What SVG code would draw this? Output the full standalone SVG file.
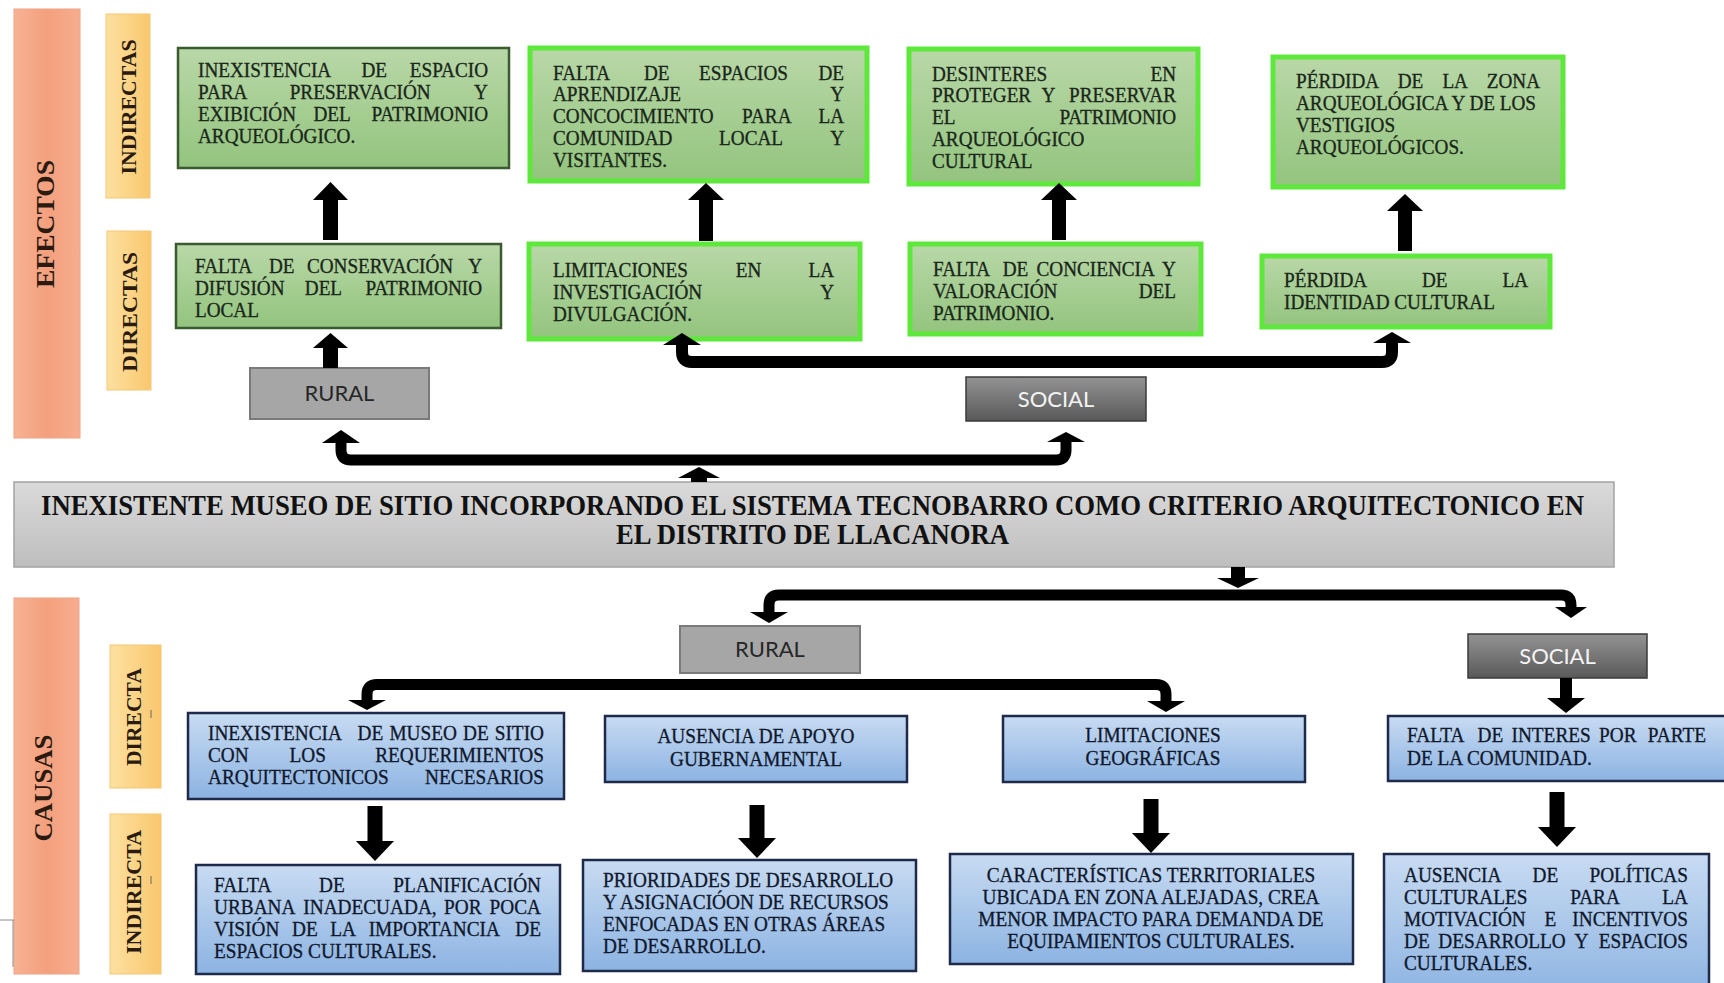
<svg xmlns="http://www.w3.org/2000/svg" width="1724" height="983" viewBox="0 0 1724 983">
<defs>
<linearGradient id="gGreen" x1="0" y1="0" x2="0" y2="1"><stop offset="0" stop-color="#b9d8a8"/><stop offset="1" stop-color="#93c47e"/></linearGradient>
<linearGradient id="gBlue" x1="0" y1="0" x2="0" y2="1"><stop offset="0" stop-color="#c8dbf2"/><stop offset="1" stop-color="#8cb3e2"/></linearGradient>
<linearGradient id="gMain" x1="0" y1="0" x2="0" y2="1"><stop offset="0" stop-color="#dadada"/><stop offset="1" stop-color="#bebebe"/></linearGradient>
<linearGradient id="gSocial" x1="0" y1="0" x2="0" y2="1"><stop offset="0" stop-color="#939393"/><stop offset="1" stop-color="#595959"/></linearGradient>
<linearGradient id="gSalmon" x1="0" y1="0" x2="1" y2="0"><stop offset="0" stop-color="#f7b294"/><stop offset="0.5" stop-color="#f4a07e"/><stop offset="1" stop-color="#f7ad8e"/></linearGradient>
<linearGradient id="gYellow" x1="0" y1="0" x2="1" y2="0"><stop offset="0" stop-color="#fde0a0"/><stop offset="0.5" stop-color="#fbd487"/><stop offset="1" stop-color="#f9c76d"/></linearGradient>
</defs>
<style>
.g1{fill:url(#gGreen);stroke:#3b5a30;stroke-width:2.5}
.g2{fill:url(#gGreen);stroke:#5ee83c;stroke-width:5}
.bl{fill:url(#gBlue);stroke:#1f2a4a;stroke-width:2.5}
.main{fill:url(#gMain);stroke:#a3a3a3;stroke-width:1.5}
.rural{fill:#a6a6a6;stroke:#7a7a7a;stroke-width:2}
.social{fill:url(#gSocial);stroke:#3a3a3a;stroke-width:1.5}
.sal{fill:url(#gSalmon);stroke:#eea486;stroke-width:1}
.yel{fill:url(#gYellow);stroke:#f3c777;stroke-width:1}
.tg,.tb{font-family:"Liberation Serif","Times New Roman",serif;transform-box:fill-box;transform-origin:50% 100%;transform:scaleY(1.1);stroke-width:0.3}
.tg{font-size:19.2px;fill:#1a261a;stroke:#1a261a}
.tb{font-size:19.3px;fill:#10182c;stroke:#10182c}
.c{text-anchor:middle}
.e{text-anchor:end}
.side{font-family:"Liberation Serif","Times New Roman",serif;font-weight:bold;fill:#2a1a10;text-anchor:middle;dominant-baseline:central}
.title{font-family:"Liberation Serif","Times New Roman",serif;font-weight:bold;font-size:25px;fill:#111;text-anchor:middle;transform-box:fill-box;transform-origin:50% 100%;transform:scaleY(1.18)}
.cat{font-family:Lato,"Open Sans",sans-serif;font-size:22px;text-anchor:middle}
.ln{fill:none;stroke:#000;stroke-width:12;stroke-linejoin:round}
.hd{fill:#000}
</style>

<!-- side bars -->
<g id="efectos"><rect class="sal" x="14" y="9" width="66" height="429"/><text class="side" font-size="26" transform="translate(45,224) rotate(-90)" textLength="128" lengthAdjust="spacingAndGlyphs">EFECTOS</text></g>
<g id="indirectas"><rect class="yel" x="106" y="14" width="44" height="184"/><text class="side" font-size="21" transform="translate(129,107) rotate(-90)" textLength="135" lengthAdjust="spacingAndGlyphs">INDIRECTAS</text></g>
<g id="directas"><rect class="yel" x="107" y="231" width="44" height="159"/><text class="side" font-size="21" transform="translate(130,312) rotate(-90)" textLength="120" lengthAdjust="spacingAndGlyphs">DIRECTAS</text></g>
<g id="causas"><rect class="sal" x="14" y="598" width="65" height="376"/><text class="side" font-size="26" transform="translate(43,788) rotate(-90)" textLength="107" lengthAdjust="spacingAndGlyphs">CAUSAS</text></g>
<g id="directa"><rect class="yel" x="110" y="645" width="51" height="143"/><text class="side" font-size="21" transform="translate(134,717) rotate(-90)" textLength="98" lengthAdjust="spacingAndGlyphs">DIRECTA</text><line x1="151" y1="710" x2="151" y2="718" stroke="#666" stroke-width="1"/></g>
<g id="indirecta"><rect class="yel" x="110" y="814" width="51" height="160"/><text class="side" font-size="21" transform="translate(134,892) rotate(-90)" textLength="124" lengthAdjust="spacingAndGlyphs">INDIRECTA</text><line x1="151" y1="876" x2="151" y2="884" stroke="#666" stroke-width="1"/></g>
<g id="mark"><path d="M0,920 H14 M13,920 V967" fill="none" stroke="#8a8a8a" stroke-width="1"/></g>

<!-- effects: indirect -->
<g id="e-ind-1"><rect class="g1" x="178" y="48" width="331" height="120"/>
<text class="tg" y="77"><tspan x="198">INEXISTENCIA</tspan><tspan x="361.4">DE</tspan><tspan class="e" x="488">ESPACIO</tspan></text>
<text class="tg" y="99"><tspan x="198">PARA</tspan><tspan x="289.7">PRESERVACIÓN</tspan><tspan class="e" x="488">Y</tspan></text>
<text class="tg" y="121"><tspan x="198">EXIBICIÓN</tspan><tspan x="313.5">DEL</tspan><tspan class="e" x="488">PATRIMONIO</tspan></text>
<text class="tg" x="198" y="143">ARQUEOLÓGICO.</text></g>

<g id="e-ind-2"><rect class="g2" x="530" y="48" width="337" height="133"/>
<text class="tg" y="80"><tspan x="553">FALTA</tspan><tspan x="644">DE</tspan><tspan x="699.1">ESPACIOS</tspan><tspan class="e" x="844">DE</tspan></text>
<text class="tg" y="101.8"><tspan x="553">APRENDIZAJE</tspan><tspan class="e" x="844">Y</tspan></text>
<text class="tg" y="123.5"><tspan x="553">CONCOCIMIENTO</tspan><tspan x="742.1">PARA</tspan><tspan class="e" x="844">LA</tspan></text>
<text class="tg" y="145.3"><tspan x="553">COMUNIDAD</tspan><tspan x="719.1">LOCAL</tspan><tspan class="e" x="844">Y</tspan></text>
<text class="tg" x="553" y="167">VISITANTES.</text></g>

<g id="e-ind-3"><rect class="g2" x="909" y="49" width="289" height="135"/>
<text class="tg" y="81"><tspan x="932">DESINTERES</tspan><tspan class="e" x="1176">EN</tspan></text>
<text class="tg" y="102.8"><tspan x="932">PROTEGER</tspan><tspan x="1041.4">Y</tspan><tspan class="e" x="1176">PRESERVAR</tspan></text>
<text class="tg" y="124.5"><tspan x="932">EL</tspan><tspan class="e" x="1176">PATRIMONIO</tspan></text>
<text class="tg" x="932" y="146.3">ARQUEOLÓGICO</text>
<text class="tg" x="932" y="168">CULTURAL</text></g>

<g id="e-ind-4"><rect class="g2" x="1273" y="57" width="290" height="130"/>
<text class="tg" y="88"><tspan x="1296">PÉRDIDA</tspan><tspan x="1397.7">DE</tspan><tspan x="1442.4">LA</tspan><tspan class="e" x="1540">ZONA</tspan></text>
<text class="tg" x="1296" y="110">ARQUEOLÓGICA Y DE LOS</text>
<text class="tg" x="1296" y="132">VESTIGIOS</text>
<text class="tg" x="1296" y="154">ARQUEOLÓGICOS.</text></g>

<!-- effects: direct -->
<g id="e-dir-1"><rect class="g1" x="176" y="244" width="325" height="84"/>
<text class="tg" y="273"><tspan x="195">FALTA</tspan><tspan x="268.9">DE</tspan><tspan x="306.9">CONSERVACIÓN</tspan><tspan class="e" x="482">Y</tspan></text>
<text class="tg" y="295"><tspan x="195">DIFUSIÓN</tspan><tspan x="304.8">DEL</tspan><tspan class="e" x="482">PATRIMONIO</tspan></text>
<text class="tg" x="195" y="317">LOCAL</text></g>

<g id="e-dir-2"><rect class="g2" x="529" y="244" width="331" height="95"/>
<text class="tg" y="277"><tspan x="553">LIMITACIONES</tspan><tspan x="735.8">EN</tspan><tspan class="e" x="834">LA</tspan></text>
<text class="tg" y="299"><tspan x="553">INVESTIGACIÓN</tspan><tspan class="e" x="834">Y</tspan></text>
<text class="tg" x="553" y="321">DIVULGACIÓN.</text></g>

<g id="e-dir-3"><rect class="g2" x="910" y="244" width="291" height="90"/>
<text class="tg" y="276"><tspan x="933">FALTA</tspan><tspan x="1002.7">DE</tspan><tspan x="1036.5">CONCIENCIA</tspan><tspan class="e" x="1176">Y</tspan></text>
<text class="tg" y="298"><tspan x="933">VALORACIÓN</tspan><tspan class="e" x="1176">DEL</tspan></text>
<text class="tg" x="933" y="320">PATRIMONIO.</text></g>

<g id="e-dir-4"><rect class="g2" x="1262" y="256" width="288" height="71"/>
<text class="tg" y="287"><tspan x="1284">PÉRDIDA</tspan><tspan x="1421.9">DE</tspan><tspan class="e" x="1528">LA</tspan></text>
<text class="tg" x="1284" y="309">IDENTIDAD CULTURAL</text></g>

<!-- categories -->
<g id="rural-top"><rect class="rural" x="250" y="368" width="179" height="51"/><text class="cat" x="339.5" y="401" fill="#262626">RURAL</text></g>
<g id="social-top"><rect class="social" x="966" y="377" width="180" height="44"/><text class="cat" x="1056" y="407" fill="#f4f4f4">SOCIAL</text></g>

<!-- main problem -->
<g id="main"><rect class="main" x="14" y="482" width="1600" height="85"/>
<text class="title" x="812.5" y="516" textLength="1543" lengthAdjust="spacingAndGlyphs">INEXISTENTE MUSEO DE SITIO INCORPORANDO EL SISTEMA TECNOBARRO COMO CRITERIO ARQUITECTONICO EN</text>
<text class="title" x="812.5" y="545" textLength="393" lengthAdjust="spacingAndGlyphs">EL DISTRITO DE LLACANORA</text></g>

<g id="rural-bot"><rect class="rural" x="680" y="626" width="180" height="47"/><text class="cat" x="770" y="657" fill="#262626">RURAL</text></g>
<g id="social-bot"><rect class="social" x="1468" y="634" width="179" height="44"/><text class="cat" x="1557.5" y="664" fill="#f4f4f4">SOCIAL</text></g>

<!-- causes: direct -->
<g id="c-dir-1"><rect class="bl" x="188" y="713" width="376" height="86"/>
<text class="tb" y="740"><tspan x="208">INEXISTENCIA</tspan><tspan x="357.6">DE</tspan><tspan x="389.4">MUSEO</tspan><tspan x="463">DE</tspan><tspan class="e" x="544">SITIO</tspan></text>
<text class="tb" y="762"><tspan x="208">CON</tspan><tspan x="289.6">LOS</tspan><tspan class="e" x="544">REQUERIMIENTOS</tspan></text>
<text class="tb" y="784"><tspan x="208">ARQUITECTONICOS</tspan><tspan class="e" x="544">NECESARIOS</tspan></text></g>

<g id="c-dir-2"><rect class="bl" x="605" y="716" width="302" height="66"/>
<text class="tb c" x="756" y="743">AUSENCIA DE APOYO</text>
<text class="tb c" x="756" y="766">GUBERNAMENTAL</text></g>

<g id="c-dir-3"><rect class="bl" x="1003" y="716" width="302" height="66"/>
<text class="tb c" x="1153" y="742">LIMITACIONES</text>
<text class="tb c" x="1153" y="765">GEOGRÁFICAS</text></g>

<g id="c-dir-4"><rect class="bl" x="1388" y="716" width="345" height="65"/>
<text class="tb" y="742"><tspan x="1407">FALTA</tspan><tspan x="1477.5">DE</tspan><tspan x="1511.5">INTERES</tspan><tspan x="1599.1">POR</tspan><tspan class="e" x="1706">PARTE</tspan></text>
<text class="tb" x="1407" y="765">DE LA COMUNIDAD.</text></g>

<!-- causes: indirect -->
<g id="c-ind-1"><rect class="bl" x="196" y="865" width="364" height="109"/>
<text class="tb" y="892"><tspan x="214">FALTA</tspan><tspan x="319.1">DE</tspan><tspan class="e" x="541">PLANIFICACIÓN</tspan></text>
<text class="tb" y="914"><tspan x="214">URBANA</tspan><tspan x="303.3">INADECUADA,</tspan><tspan x="444.1">POR</tspan><tspan class="e" x="541">POCA</tspan></text>
<text class="tb" y="936"><tspan x="214">VISIÓN</tspan><tspan x="292">DE</tspan><tspan x="330.3">LA</tspan><tspan x="368.7">IMPORTANCIA</tspan><tspan class="e" x="541">DE</tspan></text>
<text class="tb" x="214" y="958">ESPACIOS CULTURALES.</text></g>

<g id="c-ind-2"><rect class="bl" x="583" y="860" width="333" height="111"/>
<text class="tb" x="603" y="887">PRIORIDADES DE DESARROLLO</text>
<text class="tb" x="603" y="909">Y ASIGNACIÓON DE RECURSOS</text>
<text class="tb" x="603" y="931">ENFOCADAS EN OTRAS ÁREAS</text>
<text class="tb" x="603" y="953">DE DESARROLLO.</text></g>

<g id="c-ind-3"><rect class="bl" x="950" y="854" width="403" height="110"/>
<text class="tb c" x="1151" y="882">CARACTERÍSTICAS TERRITORIALES</text>
<text class="tb c" x="1151" y="904">UBICADA EN ZONA ALEJADAS, CREA</text>
<text class="tb c" x="1151" y="926">MENOR IMPACTO PARA DEMANDA DE</text>
<text class="tb c" x="1151" y="948">EQUIPAMIENTOS CULTURALES.</text></g>

<g id="c-ind-4"><rect class="bl" x="1384" y="854" width="325" height="145"/>
<text class="tb" y="882"><tspan x="1404">AUSENCIA</tspan><tspan x="1532.6">DE</tspan><tspan class="e" x="1688">POLÍTICAS</tspan></text>
<text class="tb" y="904"><tspan x="1404">CULTURALES</tspan><tspan x="1570.2">PARA</tspan><tspan class="e" x="1688">LA</tspan></text>
<text class="tb" y="926"><tspan x="1404">MOTIVACIÓN</tspan><tspan x="1544.4">E</tspan><tspan class="e" x="1688">INCENTIVOS</tspan></text>
<text class="tb" y="948"><tspan x="1404">DE</tspan><tspan x="1438.3">DESARROLLO</tspan><tspan x="1574.4">Y</tspan><tspan class="e" x="1688">ESPACIOS</tspan></text>
<text class="tb" x="1404" y="970">CULTURALES.</text></g>

<!-- connectors -->
<g id="connectors">
<line x1="330.5" y1="240" x2="330.5" y2="199" stroke="#000" stroke-width="15"/><polygon class="hd" points="313,200 330.5,182 348,200"/>
<line x1="706" y1="241" x2="706" y2="199" stroke="#000" stroke-width="14"/><polygon class="hd" points="688,200 706,183 724,200"/>
<line x1="1059" y1="240" x2="1059" y2="199" stroke="#000" stroke-width="14"/><polygon class="hd" points="1041,200 1059,183 1077,200"/>
<line x1="1405" y1="251" x2="1405" y2="210" stroke="#000" stroke-width="14"/><polygon class="hd" points="1387,211 1405,194 1423,211"/>
<line x1="330.5" y1="368" x2="330.5" y2="347" stroke="#000" stroke-width="15"/><polygon class="hd" points="313,348 330.5,333 348,348"/>
<path class="ln" d="M682,344 V352 Q682,362 692,362 H1382 Q1392,362 1392,352 V342"/>
<polygon class="hd" points="663,345 682,333 701,345"/>
<polygon class="hd" points="1373,343 1392,332 1411,343"/>
<line x1="699" y1="482" x2="699" y2="477" stroke="#000" stroke-width="16"/><polygon class="hd" points="678,478 699,467 720,478"/>
<path class="ln" style="stroke-width:11" d="M341,442 V450 Q341,460 351,460 H1056 Q1066,460 1066,450 V441"/>
<polygon class="hd" points="322,443 341,430 360,443"/>
<polygon class="hd" points="1047,442 1066,432 1085,442"/>
<line x1="1238" y1="567" x2="1238" y2="579" stroke="#000" stroke-width="14"/><polygon class="hd" points="1217,578 1238,588 1259,578"/>
<path class="ln" style="stroke-width:11" d="M1571,608 V605 Q1571,595 1561,595 H779 Q769,595 769,605 V613"/>
<polygon class="hd" points="750,612 769,623 788,612"/>
<polygon class="hd" points="1555,607 1571,618 1587,607"/>
<path class="ln" style="stroke-width:11" d="M367,701 V694.5 Q367,684.5 377,684.5 H1156 Q1166,684.5 1166,694.5 V702"/>
<polygon class="hd" points="348,700 367,710 386,700"/>
<polygon class="hd" points="1147,701 1166,712 1185,701"/>
<line x1="1566" y1="678" x2="1566" y2="699" stroke="#000" stroke-width="12"/><polygon class="hd" points="1547,698 1566,713 1585,698"/>
<line x1="375" y1="806" x2="375" y2="842" stroke="#000" stroke-width="15"/><polygon class="hd" points="356,841 375,861 394,841"/>
<line x1="757" y1="805" x2="757" y2="839" stroke="#000" stroke-width="15"/><polygon class="hd" points="738,838 757,858 776,838"/>
<line x1="1151" y1="799" x2="1151" y2="834" stroke="#000" stroke-width="15"/><polygon class="hd" points="1132,833 1151,853 1170,833"/>
<line x1="1557" y1="792" x2="1557" y2="828" stroke="#000" stroke-width="15"/><polygon class="hd" points="1538,827 1557,847 1576,827"/>
</g>
</svg>
